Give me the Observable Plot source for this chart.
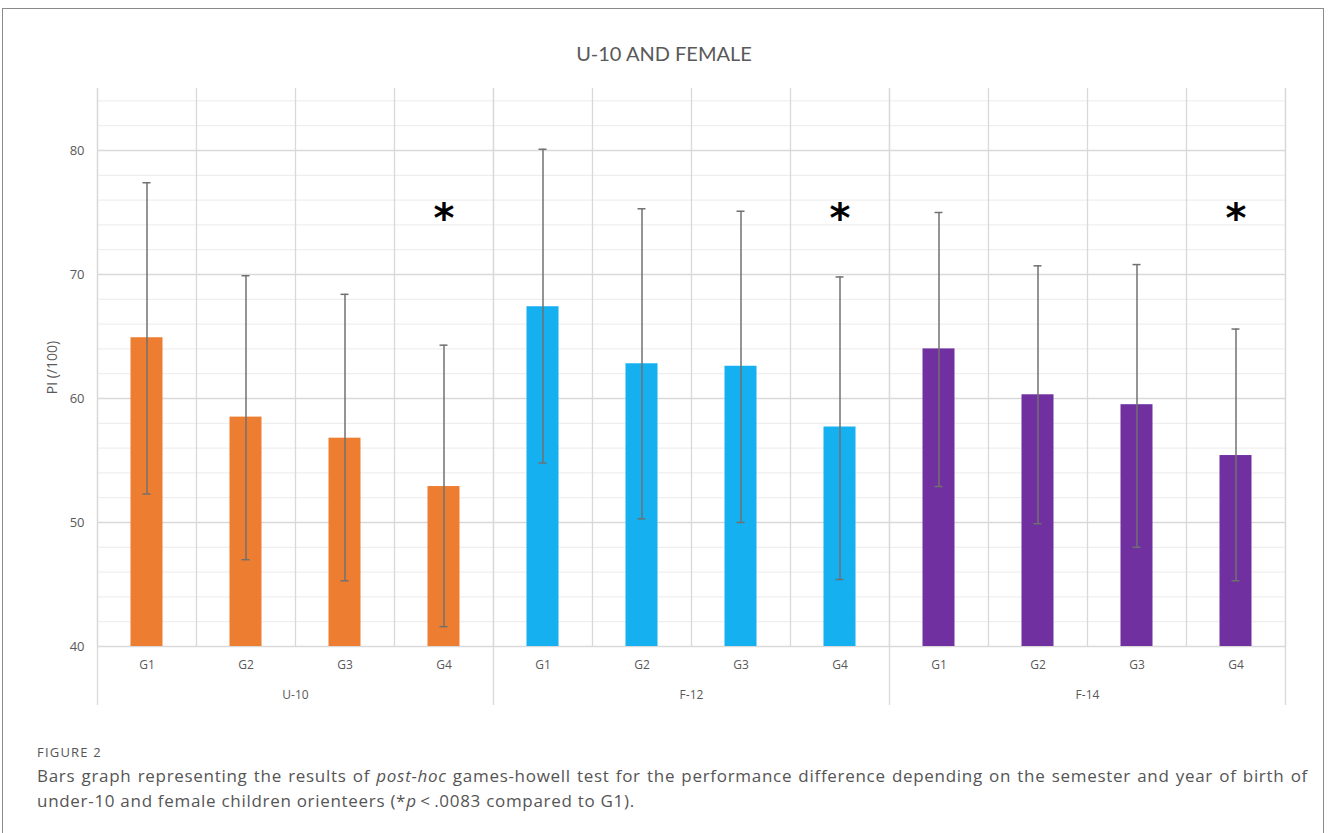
<!DOCTYPE html>
<html>
<head>
<meta charset="utf-8">
<script src="https://cdn.jsdelivr.net/npm/d3@7"></script>
<script src="https://cdn.jsdelivr.net/npm/@observablehq/plot@0.6"></script>
<style>
  html, body { margin: 0; padding: 0; background: #fff; }
  body { width: 1328px; height: 833px; position: relative; overflow: hidden; font-family: "Open Sans", sans-serif; }
  #frame { position: absolute; left: 2px; top: 8px; width: 1322px; height: 900px; border: 1px solid #8a8a8a; box-sizing: border-box; }
  #title { position: absolute; left: 0; width: 1328px; top: 39px; text-align: center; font-family: Lato, "Open Sans", sans-serif; font-size: 20px; color: #595959; line-height: 28px; }
  #chart { position: absolute; left: 0; top: 70px; }
  #figlabel { position: absolute; left: 37px; top: 743px; font-size: 13px; color: #555; letter-spacing: 1.2px; }
  #cap1 { position: absolute; left: 37px; top: 763px; width: 1271px; font-size: 17px; letter-spacing: 0.7px; color: #555; text-align: justify; text-align-last: justify; line-height: 25px; }
  #cap2 { position: absolute; left: 37px; top: 788px; font-size: 17px; letter-spacing: 0.7px; color: #555; line-height: 25px; white-space: nowrap; }
</style>
</head>
<body>
<div id="frame"></div>
<div id="title">U-10 AND FEMALE</div>
<div id="chart"></div>
<div id="figlabel">FIGURE 2</div>
<div id="cap1">Bars graph representing the results of <i>post-hoc</i> games-howell test for the performance difference depending on the semester and year of birth of</div>
<div id="cap2">under-10 and female children orienteers (*<i>p</i>&thinsp;&lt;&thinsp;.0083 compared to G1).</div>
<script>
// ---- data ----
const groups = ["U-10", "F-12", "F-14"];
const conditions = ["G1", "G2", "G3", "G4"];
const groupColors = ["#ED7D31", "#14B0F0", "#7030A0"];

const u10Mean = [64.9, 58.5, 56.8, 52.9];
const u10Low  = [52.3, 47.0, 45.3, 41.6];
const u10High = [77.4, 69.9, 68.4, 64.3];

const f12Mean = [67.4, 62.8, 62.6, 57.7];
const f12Low  = [54.8, 50.3, 50.0, 45.4];
const f12High = [80.1, 75.3, 75.1, 69.8];

const f14Mean = [64.0, 60.3, 59.5, 55.4];
const f14Low  = [52.9, 49.9, 48.0, 45.3];
const f14High = [75.0, 70.7, 70.8, 65.6];

const significant = ["G4"];
const asteriskLevel = 75;
const yTicks = [40, 50, 60, 70, 80];
const yMinorTicks = [42, 44, 46, 48, 52, 54, 56, 58, 62, 64, 66, 68, 72, 74, 76, 78, 82, 84];

// ---- table ----
const seriesMean = [u10Mean, f12Mean, f14Mean];
const seriesLow = [u10Low, f12Low, f14Low];
const seriesHigh = [u10High, f12High, f14High];
const rows = [];
groups.forEach((g, gi) => conditions.forEach((c, ci) => {
  const i = gi * conditions.length + ci;
  rows.push({group: g, cond: c, i, mean: seriesMean[gi][ci], low: seriesLow[gi][ci], high: seriesHigh[gi][ci]});
}));
const n = rows.length;
const boundaries = d3.range(0, n + 1);
const groupBounds = d3.range(0, n + 1, conditions.length);
const starRows = rows.filter(d => significant.includes(d.cond));

const plot = Plot.plot({
  width: 1328,
  height: 650,
  marginTop: 18,
  marginBottom: 74,
  marginLeft: 97,
  marginRight: 43,
  style: {fontFamily: "'Open Sans', sans-serif", fontSize: "13px", color: "#595959", background: "transparent"},
  x: {type: "linear", domain: [0, n], axis: null},
  y: {domain: [40, 85], axis: null},
  color: {domain: groups, range: groupColors},
  marks: [
    Plot.ruleY(yMinorTicks, {stroke: "#efefef", strokeWidth: 1.2}),
    Plot.ruleY(yTicks, {stroke: "#d9d9d9", strokeWidth: 1.4}),
    Plot.ruleX(boundaries, {stroke: "#d9d9d9", strokeWidth: 1.3}),
    Plot.ruleX(groupBounds, {stroke: "#d9d9d9", strokeWidth: 1.3, insetBottom: -59}),
    Plot.rectY(rows, {x1: "i", x2: d => d.i + 1, y1: 40, y2: "mean", fill: "group", insetLeft: 33.5, insetRight: 33.5}),
    Plot.ruleX(rows, {x: d => d.i + 0.5, y1: "low", y2: "high", stroke: "#707070", strokeWidth: 1.5}),
    Plot.ruleY(rows, {x1: "i", x2: d => d.i + 1, y: "low", stroke: "#707070", strokeWidth: 1.5, insetLeft: 45.5, insetRight: 45.5}),
    Plot.ruleY(rows, {x1: "i", x2: d => d.i + 1, y: "high", stroke: "#707070", strokeWidth: 1.5, insetLeft: 45.5, insetRight: 45.5}),
    Plot.text(starRows, {x: d => d.i + 0.5, y: asteriskLevel, text: () => "*", fontSize: 40, fontWeight: "bold", fill: "#000", fontFamily: "DejaVu Sans", dy: 7}),
    Plot.axisY(yTicks, {tickSize: 0, tickPadding: 13, fontSize: 13, label: null}),
    Plot.text(["PI (/100)"], {frameAnchor: "left", textAnchor: "middle", rotate: -90, dx: -45, fontSize: 14, fill: "#595959"}),
    Plot.axisX(rows.map(d => d.i + 0.5), {tickSize: 0, tickPadding: 14, fontSize: 12, label: null, tickFormat: d => conditions[Math.floor(d) % conditions.length]}),
    Plot.axisX(groups.map((g, gi) => gi * conditions.length + conditions.length / 2), {tickSize: 0, tickPadding: 44, fontSize: 12, label: null, tickFormat: d => groups[Math.round((d - conditions.length / 2) / conditions.length)]})
  ]
});
document.getElementById("chart").appendChild(plot);
</script>
</body>
</html>
